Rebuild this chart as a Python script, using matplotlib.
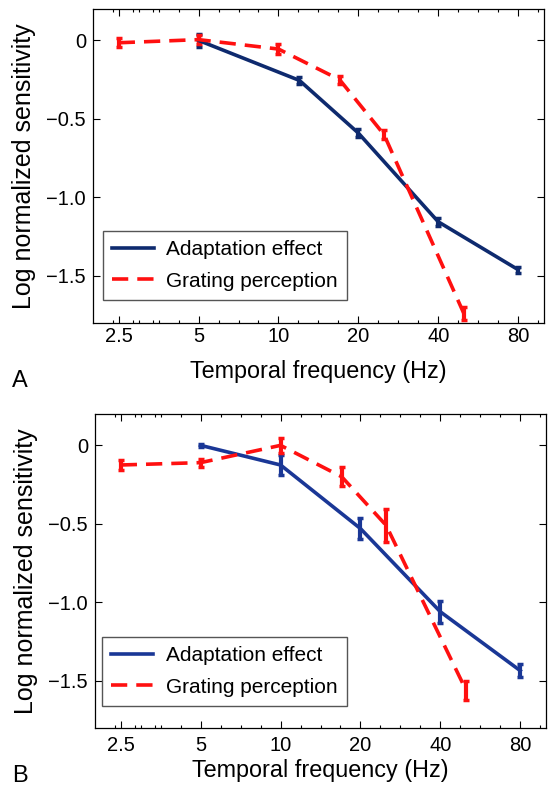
import matplotlib
matplotlib.use('Agg')
import matplotlib.pyplot as plt
from matplotlib.lines import Line2D
from matplotlib.ticker import FixedLocator, NullFormatter

plt.rcParams['font.family'] = ['Liberation Sans', 'DejaVu Sans']

# panel A
a_adapt_x = [5, 12, 20, 40, 80]
a_adapt_y = [0.0, -0.255, -0.59, -1.155, -1.46]
a_adapt_err = [0.04, 0.02, 0.025, 0.025, 0.02]
a_grat_x = [2.5, 5, 10, 17, 25, 50]
a_grat_y = [-0.015, 0.005, -0.055, -0.25, -0.6, -1.74]
a_grat_err = [0.03, 0.03, 0.03, 0.025, 0.03, 0.04]

# panel B
b_adapt_x = [5, 10, 20, 40, 80]
b_adapt_y = [0.0, -0.125, -0.53, -1.06, -1.435]
b_adapt_err = [0.01, 0.065, 0.065, 0.07, 0.04]
b_grat_x = [2.5, 5, 10, 17, 25, 50]
b_grat_y = [-0.125, -0.11, 0.0, -0.2, -0.51, -1.56]
b_grat_err = [0.03, 0.025, 0.05, 0.06, 0.105, 0.06]

xticks = [2.5, 5, 10, 20, 40, 80]
xticklabels = ['2.5', '5', '10', '20', '40', '80']
yticks = [0, -0.5, -1.0, -1.5]
yticklabels = ['0', '\u22120.5', '\u22121.0', '\u22121.5']

blue_a = '#0e2a6e'
blue_b = '#1a3796'
red = '#ff1010'
dash = (0, (4.5, 2.5))

fig = plt.figure(figsize=(5.56, 7.97), dpi=100)
axA = fig.add_axes([0.1673, 0.5947, 0.8107, 0.394])
axB = fig.add_axes([0.1709, 0.0866, 0.8111, 0.394])


def draw(ax, ax_x, ax_y, ax_e, gx, gy, ge, blue, tickpad, labpad, leg_anchor):
    ax.errorbar(ax_x, ax_y, yerr=ax_e, color=blue, lw=2.6, elinewidth=3,
                capsize=2.5, capthick=2.5)
    ax.errorbar(gx, gy, yerr=ge, color=red, lw=2.6, ls=dash,
                elinewidth=3, capsize=2.5, capthick=2.5)
    ax.set_xscale('log', base=2)
    ax.set_xlim(2, 100)
    ax.set_ylim(-1.8, 0.2)
    ax.xaxis.set_major_locator(FixedLocator(xticks))
    ax.set_xticklabels(xticklabels)
    minors = []
    for t in xticks[:-1]:
        minors += [t * 2 ** (k / 4) for k in (1, 2, 3)]
    minors += [2 * 2 ** (k / 4) for k in (1, 2, 3)] + [160 * 2 ** (-k / 4) for k in (1, 2, 3)]
    ax.xaxis.set_minor_locator(FixedLocator(minors))
    ax.xaxis.set_minor_formatter(NullFormatter())
    ax.set_yticks(yticks)
    ax.set_yticklabels(yticklabels)
    ax.tick_params(which='both', direction='in', top=True, right=True, labelsize=14.5)
    ax.tick_params(axis='x', pad=tickpad)
    ax.tick_params(axis='y', pad=5)
    ax.tick_params(which='major', length=5, width=0.8)
    ax.tick_params(which='minor', length=2.5, width=0.8)
    for s in ax.spines.values():
        s.set_linewidth(0.9)
    ax.set_xlabel('Temporal frequency (Hz)', fontsize=16.8, labelpad=labpad)
    ax.set_ylabel('Log normalized sensitivity', fontsize=18, labelpad=7.5)
    handles = [Line2D([], [], color=blue, lw=2.6),
               Line2D([], [], color=red, lw=2.6, ls=dash)]
    leg = ax.legend(handles, ['Adaptation effect', 'Grating perception'],
                    loc='lower left', fontsize=15, fancybox=False, framealpha=1,
                    edgecolor='#555555', handlelength=2.0, handletextpad=0.6,
                    labelspacing=0.6, borderpad=0.45,
                    bbox_to_anchor=leg_anchor, borderaxespad=0)
    leg.get_frame().set_linewidth(1.0)


draw(axA, a_adapt_x, a_adapt_y, a_adapt_err, a_grat_x, a_grat_y, a_grat_err,
     blue_a, 3, 10, (0.022, 0.073))
draw(axB, b_adapt_x, b_adapt_y, b_adapt_err, b_grat_x, b_grat_y, b_grat_err,
     blue_b, 5.5, 3, (0.0155, 0.07))

fig.text(0.0216, 1 - 381 / 797, 'A', fontsize=17, va='center')
fig.text(0.0216, 1 - 776 / 797, 'B', fontsize=17, va='center')

fig.savefig('out.png', dpi=100)
